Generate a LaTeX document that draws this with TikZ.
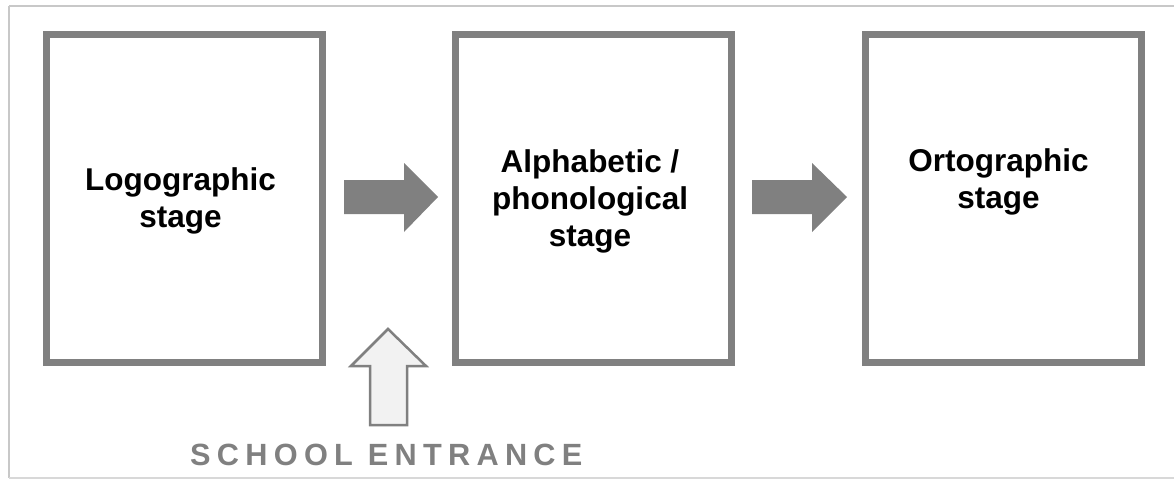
\documentclass[tikz,border=0pt]{standalone}
\usepackage{fontspec}
\setmainfont{Liberation Sans}
\newfontfamily\spacedfont[LetterSpace=20.5]{Liberation Sans}
\definecolor{boxgray}{HTML}{808080}
\definecolor{framegray}{HTML}{C8C8C8}
\definecolor{uparrowfill}{HTML}{F2F2F2}
\begin{document}
\begin{tikzpicture}[x=1pt,y=-1pt,
  stagebox/.style={draw=boxgray, line width=7pt, fill=none},
  stagetext/.style={inner sep=0pt, align=center, font=\bfseries\fontsize{31.5}{37}\selectfont, text=black},
  fatarrow/.style={fill=boxgray, draw=none},
  entryarrow/.style={fill=uparrowfill, draw=boxgray, line width=2.5pt, line join=miter},
  entrytext/.style={inner sep=0pt, anchor=base west, text=boxgray, font=\spacedfont\bfseries\fontsize{30.7}{36}\selectfont}]
\useasboundingbox (0,0) rectangle (1174,479);
% outer frame
\draw[framegray, line width=2pt] (9,6) -- (1174,6);
\draw[framegray, line width=1.5pt] (9,6) -- (9,478);
\draw[framegray!70, line width=1.2pt] (9,478) -- (1174,478);
% stage boxes
\node[stagebox, inner sep=0pt, minimum width=276pt, minimum height=327.5pt] (b1) at (184.5,198.25) {};
\node[stagebox, inner sep=0pt, minimum width=276pt, minimum height=327.5pt] (b2) at (593.5,198.25) {};
\node[stagebox, inner sep=0pt, minimum width=276pt, minimum height=327.5pt] (b3) at (1003.5,198.25) {};
% texts
\node[stagetext] (t1) at (180.5,201) {Logographic\\stage};
\node[stagetext] (t2) at (590,201) {Alphabetic /\\phonological\\stage};
\node[stagetext] (t3) at (998.5,181.5) {Ortographic\\stage};
% fat arrows between stages
\fill[fatarrow] (344,180) -- (404,180) -- (404,163) -- (438,197) -- (404,232) -- (404,214) -- (344,214) -- cycle;
\fill[fatarrow] (752,180) -- (812,180) -- (812,163) -- (847,197) -- (812,232) -- (812,214) -- (752,214) -- cycle;
% school entrance arrow
\draw[entryarrow] (388,329) -- (426,366) -- (407,366) -- (407,425) -- (370,425) -- (370,366) -- (351,366) -- cycle;
\node[entrytext] (se) at (190,465) {SCHOOL ENTRANCE};
\end{tikzpicture}
\end{document}
